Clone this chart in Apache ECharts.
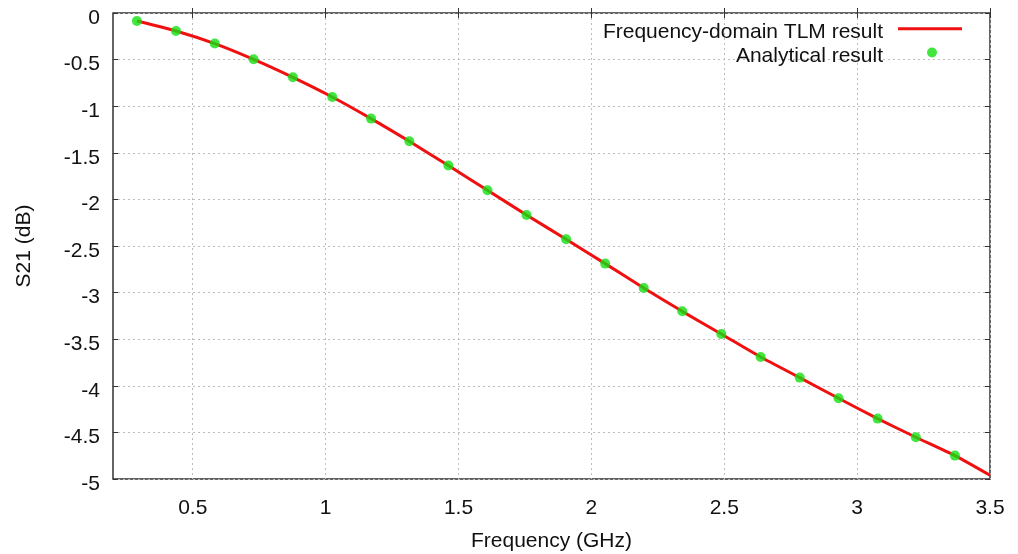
<!DOCTYPE html>
<html>
<head>
<meta charset="utf-8">
<script src="https://cdn.jsdelivr.net/npm/echarts@6/dist/echarts.min.js"></script>
<style>
html,body{margin:0;padding:0;background:#fff;}
#chart{width:1018px;height:554px;}
</style>
</head>
<body>
<div id="chart"></div>
<script>
// Analytical result (green dots)
var anaFreq = [0.290, 0.437, 0.583, 0.729, 0.877, 1.025, 1.171, 1.315, 1.462, 1.609, 1.756, 1.905, 2.052, 2.197, 2.342, 2.489, 2.637, 2.784, 2.930, 3.077, 3.221, 3.368];
var anaS21  = [-0.086, -0.193, -0.328, -0.497, -0.690, -0.901, -1.133, -1.377, -1.637, -1.902, -2.167, -2.428, -2.689, -2.950, -3.201, -3.444, -3.691, -3.912, -4.134, -4.352, -4.552, -4.749];
// Frequency-domain TLM result (red line)
var tlmFreq = [0.290, 0.437, 0.583, 0.729, 0.877, 1.025, 1.171, 1.315, 1.462, 1.609, 1.756, 1.905, 2.052, 2.197, 2.342, 2.489, 2.637, 2.784, 2.930, 3.077, 3.221, 3.368, 3.500];
var tlmS21  = [-0.086, -0.193, -0.328, -0.497, -0.690, -0.901, -1.133, -1.377, -1.637, -1.902, -2.167, -2.428, -2.689, -2.950, -3.201, -3.444, -3.691, -3.912, -4.134, -4.352, -4.552, -4.749, -4.960];
// tick values
var xTicks = [0.5, 1, 1.5, 2, 2.5, 3, 3.5];

function pairs(xs, ys){ return xs.map(function(x,i){ return [x, ys[i]]; }); }

var FONT = '"Liberation Sans", Arial, sans-serif';
var RED = '#f01010', GREEN = '#12e012';
var chart = echarts.init(document.getElementById('chart'), null, {renderer:'canvas'});
var gridLine = {show:true, lineStyle:{color:'#bdbdbd', width:1, type:[2,3]}};
var tickStyle = {color:'#333', width:1};

chart.setOption({
  animation:false,
  backgroundColor:'#fff',
  grid:{left:113, right:28, top:13, bottom:75, outerBoundsMode:'none', containLabel:false,
        show:true, borderColor:'#333', borderWidth:1.5, backgroundColor:'transparent'},
  legend:[
    {data:[{name:'Frequency-domain TLM result',
            icon:'path://M0,0L64,0L64,3L0,3Z M0,11L0.001,11Z',
            itemStyle:{color:RED, borderWidth:0}}],
     orient:'vertical', align:'right', right:56, top:20.7, padding:0,
     itemWidth:64, itemHeight:11,
     textStyle:{fontFamily:FONT, fontSize:21, color:'#111', lineHeight:24, padding:[0,10,0,0]}},
    {data:[{name:'Analytical result',
            icon:'path://M5,0A5,5,0,1,1,4.99,0Z M5,18L5.001,18Z',
            itemStyle:{color:GREEN, borderWidth:0}}],
     orient:'vertical', align:'right', right:81, top:44.5, padding:0,
     itemWidth:10, itemHeight:18,
     textStyle:{fontFamily:FONT, fontSize:21, color:'#111', lineHeight:24, padding:[0,39,0,0]}}
  ],
  xAxis:[
    {type:'value', position:'bottom', min:0.2, max:3.5,
     name:'Frequency (GHz)', nameLocation:'middle', nameGap:52,
     nameTextStyle:{fontFamily:FONT, fontSize:21, color:'#111'},
     axisLine:{show:false},
     axisTick:{show:true, inside:true, length:5, lineStyle:tickStyle, customValues:xTicks},
     axisLabel:{show:true, margin:19, fontFamily:FONT, fontSize:21, color:'#111', customValues:xTicks},
     splitLine:gridLine},
    {type:'value', position:'top', min:0.2, max:3.5,
     axisLine:{show:false},
     axisTick:{show:true, inside:true, length:5, lineStyle:tickStyle, customValues:xTicks},
     axisLabel:{show:false, customValues:xTicks},
     splitLine:{show:false}}
  ],
  yAxis:[
    {type:'value', position:'left', min:-5, max:0, interval:0.5,
     name:'S21 (dB)', nameLocation:'middle', nameGap:78,
     nameTextStyle:{fontFamily:FONT, fontSize:21, color:'#111'},
     axisLine:{show:false},
     axisTick:{show:true, inside:true, length:5, lineStyle:tickStyle},
     axisLabel:{show:true, margin:13, fontFamily:FONT, fontSize:21, color:'#111',
                formatter:function(v){ return '{a|' + v + '}'; },
                rich:{a:{fontFamily:FONT, fontSize:21, color:'#111', padding:[10,0,0,0]}}},
     splitLine:gridLine},
    {type:'value', position:'right', min:-5, max:0, interval:0.5,
     axisLine:{show:false},
     axisTick:{show:true, inside:true, length:5, lineStyle:tickStyle},
     axisLabel:{show:false},
     splitLine:{show:false}}
  ],
  series:[
    {name:'Frequency-domain TLM result', type:'line', xAxisIndex:0, yAxisIndex:0,
     data:pairs(tlmFreq, tlmS21), symbol:'none', smooth:0.2,
     lineStyle:{color:RED, width:3}, itemStyle:{color:RED}, z:2},
    {name:'Analytical result', type:'scatter', xAxisIndex:0, yAxisIndex:0,
     data:pairs(anaFreq, anaS21), symbol:'circle', symbolSize:10,
     itemStyle:{color:GREEN}, z:3}
  ]
});
</script>
</body>
</html>
